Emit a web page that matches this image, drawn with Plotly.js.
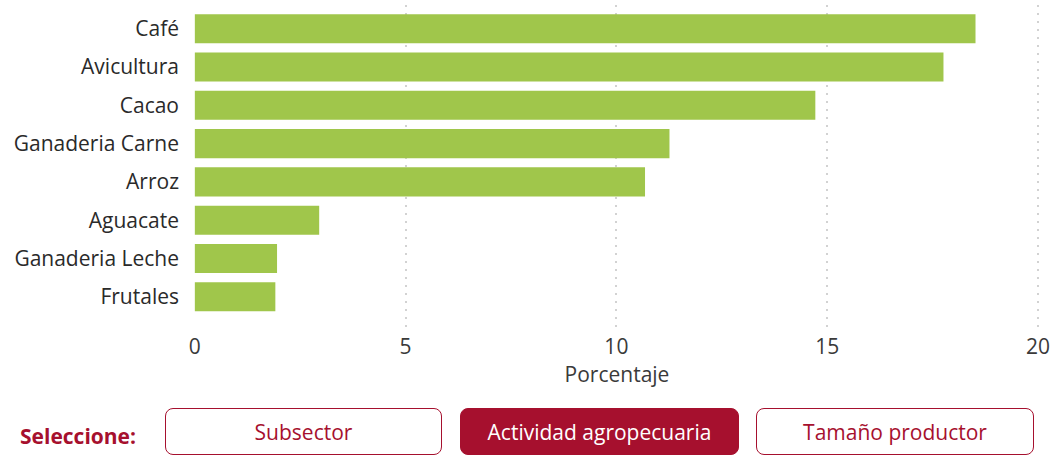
<!DOCTYPE html>
<html>
<head>
<meta charset="utf-8">
<script src="https://cdn.plot.ly/plotly-3.0.1.min.js"></script>
<style>
  html, body { margin: 0; padding: 0; background: #fff; }
  #wrap { position: relative; width: 1050px; height: 462px; overflow: hidden; }
  #chart { position: absolute; left: 0; top: 0; width: 1050px; height: 462px; }
  .sel { position: absolute; left: 20px; top: 421px; font-family: 'Open Sans', sans-serif; font-weight: 700; font-size: 21px; line-height: 30px; color: #A6102E; }
  .btn { position: absolute; top: 408px; height: 47px; box-sizing: border-box; border: 1.5px solid #A6102E; border-radius: 8px; background: #fff; color: #A6102E; font-family: 'Open Sans', sans-serif; font-size: 21px; display: flex; align-items: center; justify-content: center; }
  .btn.active { background: #A6102E; color: #fff; }
</style>
</head>
<body>
<div id="wrap">
  <div id="chart"></div>
  <div class="sel">Seleccione:</div>
  <div class="btn" style="left:165px;width:277px;">Subsector</div>
  <div class="btn active" style="left:460px;width:279px;">Actividad agropecuaria</div>
  <div class="btn" style="left:756px;width:278px;">Tamaño productor</div>
</div>
<script>
const categories = ["Café", "Avicultura", "Cacao", "Ganaderia Carne", "Arroz", "Aguacate", "Ganaderia Leche", "Frutales"];
const values = [18.52, 17.76, 14.72, 11.26, 10.68, 2.95, 1.95, 1.91];
const xTicks = [0, 5, 10, 15, 20];

const trace = {
  type: 'bar',
  orientation: 'h',
  x: values,
  y: categories,
  marker: { color: '#A0C64B', line: { color: '#A0C64B', width: 0 } },
  hoverinfo: 'x+y'
};

const layout = {
  width: 1050,
  height: 462,
  margin: { l: 194, r: 10, t: 5, b: 135 },
  paper_bgcolor: '#fff',
  plot_bgcolor: '#fff',
  bargap: 0.24,
  font: { family: "'Open Sans', sans-serif", size: 21, color: '#333' },
  xaxis: {
    range: [-0.02, 20.05],
    tickvals: xTicks,
    ticktext: xTicks.map(String),
    showgrid: true,
    gridcolor: '#d2d2d2',
    griddash: '1.5px,6.5px',
    gridwidth: 1.5,
    zeroline: false,
    showline: false,
    ticks: '',
    ticklabelstandoff: 5,
    ticklabeloverflow: 'allow',
    tickfont: { size: 21, color: '#3a3a3a' },
    title: { text: 'Porcentaje', font: { size: 21, color: '#3a3a3a' }, standoff: 7 }
  },
  yaxis: {
    range: [7.79, -0.62],
    showgrid: false,
    zeroline: false,
    ticks: '',
    ticklabelstandoff: 14,
    tickfont: { size: 21, color: '#2a2a2a' }
  },
  showlegend: false
};

Plotly.newPlot('chart', [trace], layout, { displayModeBar: false, responsive: false });
</script>
</body>
</html>
